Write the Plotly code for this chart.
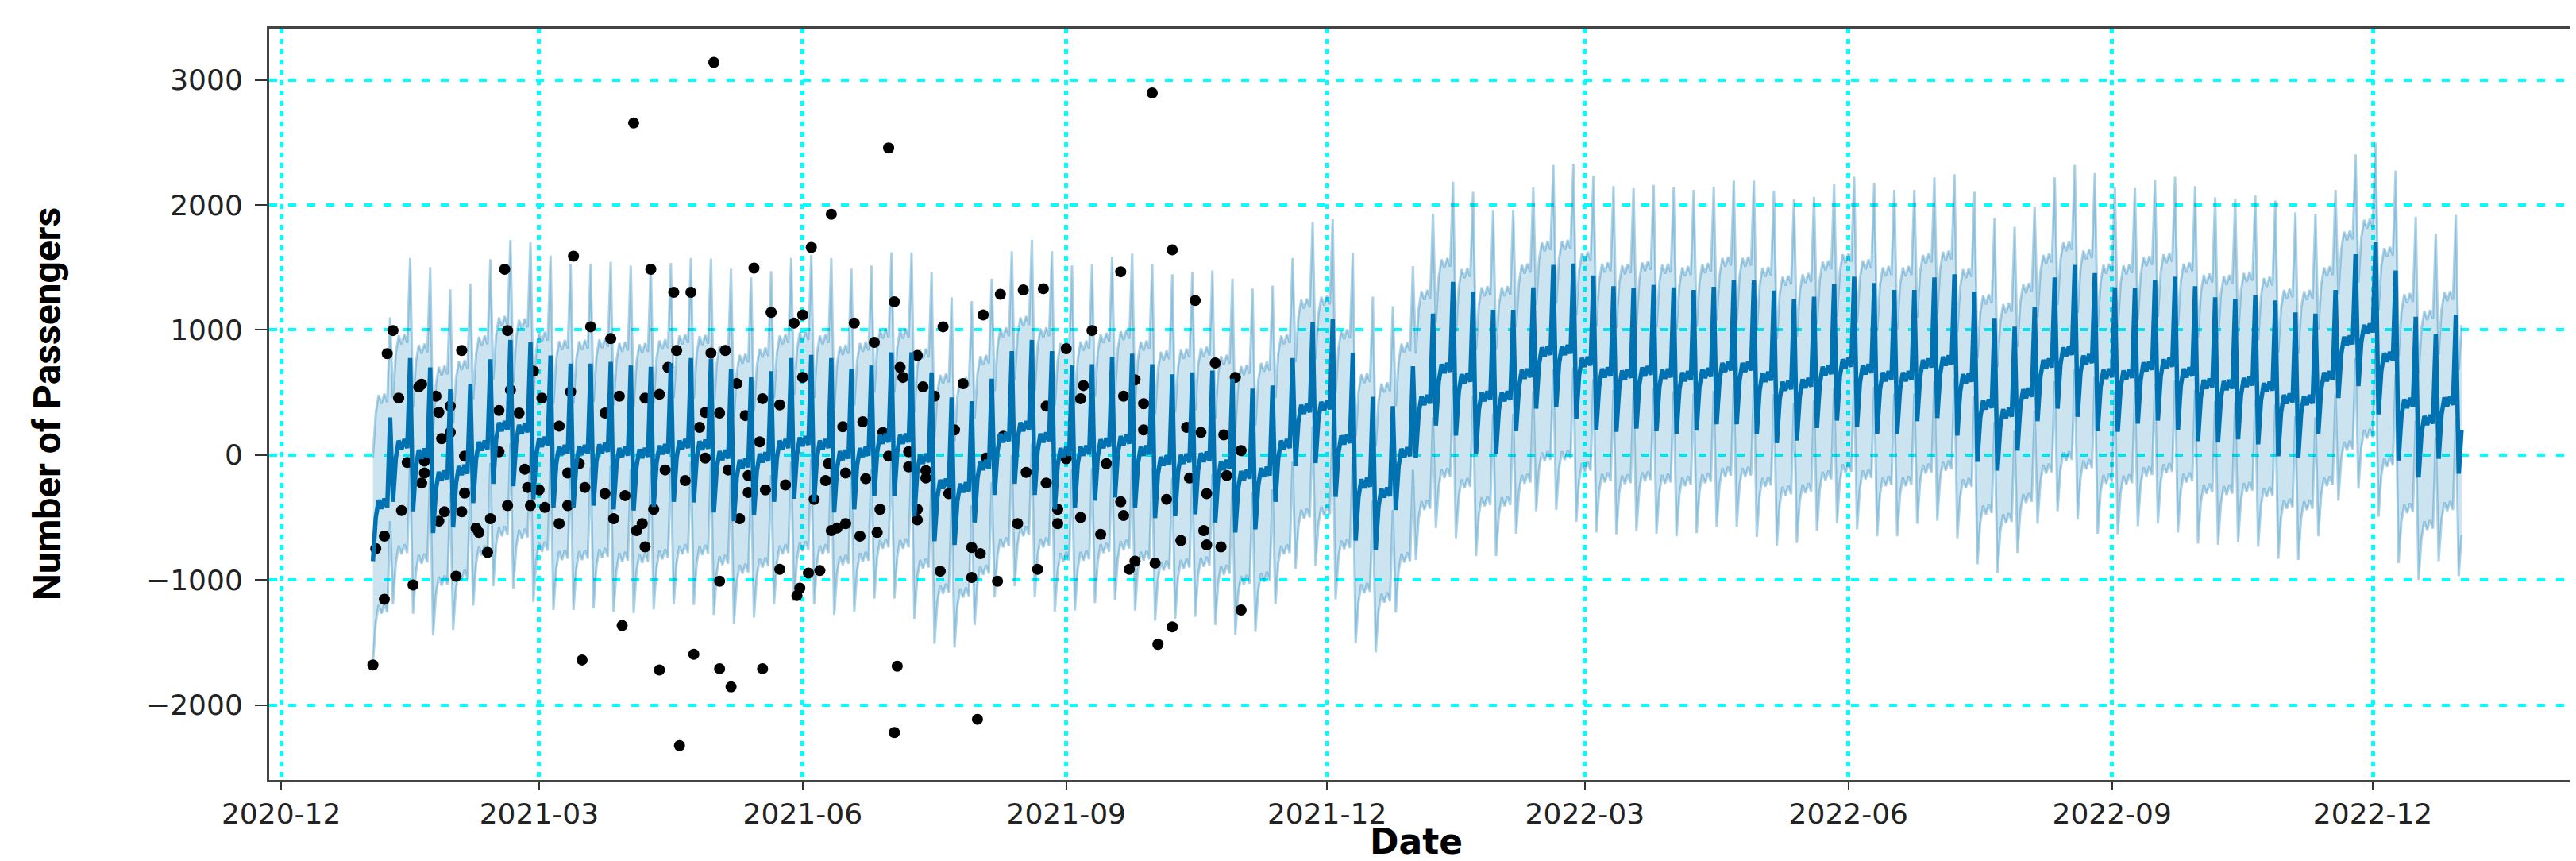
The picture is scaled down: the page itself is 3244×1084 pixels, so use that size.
import numpy as np
import pandas as pd
import plotly.graph_objects as go

# observation days are counted from this date
day0 = pd.Timestamp("2020-12-01")

obs_day = [32, 33, 36, 36, 37, 39, 41, 42, 44, 46, 48, 49, 49, 50, 50, 54, 55, 55, 56, 57,
           59, 59, 61, 63, 63, 64, 64, 68, 69, 72, 73, 76, 76, 78, 79, 79, 80, 83, 85, 86,
           87, 88, 90, 91, 92, 97, 97, 100, 100, 101, 102, 104, 105, 106, 108,
           113, 113, 115, 116, 118, 119, 120, 123, 124, 126, 127, 127, 129, 130, 132, 132, 134, 135, 137, 138,
           139, 141, 143, 144, 146, 148, 148, 150, 151, 153, 153, 153, 155, 156, 157, 159, 160, 162, 163, 163,
           165, 167, 168, 168, 169, 171, 174, 174, 176, 179, 180, 181, 182, 182, 184, 185, 186, 188, 190, 191,
           192, 192,
           194, 196, 197, 197, 200, 202, 203, 204, 207, 208, 209, 210, 212, 212, 214, 215, 214, 216, 217, 219,
           219, 222, 222, 222, 224, 225, 225, 228, 230, 231, 233, 235, 238, 241, 241, 243, 244, 245, 246, 250,
           251, 252, 257, 259, 260, 264, 266, 267, 267, 271, 271, 274, 274,
           279, 279, 280, 283, 286, 288, 293, 293, 294, 294, 296, 298, 298, 301, 301, 304, 305, 306, 309, 311,
           311, 314, 316, 317, 319, 321, 322, 323, 323, 326, 328, 329, 330, 333, 335, 335]
obs_value = [-1680, -750, -650, -1155, 810, 995, 455, -445, -60, -1040, 545, 565, -225, -145, -50, 470, -530, 340, 130, -455,
             390, 180, -970, -455, 835, -10, -305, -585, -620, -780, -510, 355, 25, 1485, -405, 995, 520, 335, -115, -260,
             -405, 670, -280, 455, -420, -550, 230, -145, -405, 505, 1590, -70, -1640, -260, 1025,
             335, -310, 930, -510, 470, -1365, -325, 2655, -605, -550, -735, 455, 1485, -435, -1720, 485, -120, 700, 1300, 835,
             -2325, -205, 1300, -1595, 220, 340, -25, 815, 3140, 335, -1010, -1710, 835, -120, -1855, 570, -510, 315, -165, -300,
             1495, 105, 450, -1710, -280, 1140, 400, -915, -240, 1055, -1125, -1065, 1120, 620, -945, 1660, -355, -925, -205, -70,
             1925, -605,
             -585, 225, -550, -145, 1055, -650, 265, -190, 900, -620, -435, 180, 2455, -10, 1225, -1690, -2220, 700, 620, 25,
             -95, 795, -435, -520, 545, -125, -185, 470, -930, 1025, -310, 200, 570, -740, -980, -2115, -790, 1120, -25, -1010,
             1285, 150, -550, 1320, -140, -915, 1330, -225, 390, -435, -550, 850, -30,
             -500, 450, 555, 995, -635, -70, 1465, -375, -485, 470, -915, -850, 600, 200, 410, 2895, -865, -1515, -355, 1640,
             -1375, -685, 220, -185, 1235, 180, -605, -720, -310, 735, -735, 160, -165, 620, -1240, 35]

# forecast: level of each week (Sat..Fri) plus a weekday effect (Mon..Sun)
forecast_start = "2021-01-02"
forecast_end = "2023-01-01"
weekly_level = [-400, 75, 0, -175, -130, 65, 220, 200, 95, 30,
                30, 45, 15, 5, 35, 75, 70, -10, -80, -30,
                75, 100, 75, -10, 15, 120, 120, -40, -240, -270,
                -90, 130, 220, 130, 15, 25, 85, 110, 25, -55,
                -40, -25, -90, -170, -145, 75, 360, 385, 115, -235,
                -310, 10, 430, 685, 605, 460, 460, 640, 820, 830,
                735, 650, 635, 660, 640, 620, 645, 695, 695, 615,
                545, 565, 665, 725, 675, 620, 620, 720, 745, 605,
                395, 325, 485, 720, 820, 755, 640, 635, 700, 725,
                650, 560, 550, 575, 535, 440, 430, 620, 905, 1000,
                775, 405, 270, 420, 300]
weekday_effect = [40, -30, 50, -20, 700, -450, -100]
band_above = [840, 840, 840, 840, 800, 830, 840]
band_below = [840, 840, 840, 840, 830, 820, 840]

x_tick_dates = ["2020-12-01", "2021-03-01", "2021-06-01", "2021-09-01", "2021-12-01",
                "2022-03-01", "2022-06-01", "2022-09-01", "2022-12-01"]
x_tick_text = ["2020-12", "2021-03", "2021-06", "2021-09", "2021-12",
               "2022-03", "2022-06", "2022-09", "2022-12"]
y_tick_vals = [-2000, -1000, 0, 1000, 2000, 3000]
y_tick_text = ["\u22122000", "\u22121000", "0", "1000", "2000", "3000"]

obs_ds = day0 + pd.to_timedelta(obs_day, unit="D")
ds = pd.date_range(forecast_start, forecast_end, freq="D")
week_no = np.asarray((ds - ds[0]).days // 7)
dow = np.asarray(ds.dayofweek)
yhat = np.asarray(weekly_level)[week_no] + np.asarray(weekday_effect)[dow]
yhat_upper = yhat + np.asarray(band_above)[dow]
yhat_lower = yhat - np.asarray(band_below)[dow]

blue = "#0072B2"
band_edge = "rgba(0,114,178,0.32)"
band_fill = "rgba(0,114,178,0.2)"

fig = go.Figure()
fig.add_trace(go.Scatter(x=ds, y=yhat_lower, mode="lines",
                         line=dict(color=band_edge, width=3), showlegend=False))
fig.add_trace(go.Scatter(x=ds, y=yhat_upper, mode="lines", fill="tonexty",
                         fillcolor=band_fill,
                         line=dict(color=band_edge, width=3), showlegend=False))
fig.add_trace(go.Scatter(x=obs_ds, y=obs_value, mode="markers",
                         marker=dict(color="black", size=14), showlegend=False))
fig.add_trace(go.Scatter(x=ds, y=yhat, mode="lines",
                         line=dict(color=blue, width=5.5), showlegend=False))

tick_font = dict(family="DejaVu Sans", size=36, color="#222222")
fig.update_layout(
    width=3244, height=1084,
    margin=dict(l=331, r=12, t=28, b=110),
    paper_bgcolor="white", plot_bgcolor="white",
    xaxis=dict(
        type="date",
        range=[day0 - pd.Timedelta(days=4.2), day0 + pd.Timedelta(days=799)],
        tickvals=x_tick_dates, ticktext=x_tick_text,
        ticks="outside", ticklen=9, tickwidth=2, tickcolor="#333333",
        tickfont=tick_font,
        showgrid=True, gridcolor="#00ffff", griddash="6px,7px", gridwidth=5,
        showline=True, mirror=True, linecolor="#444444", linewidth=3,
        zeroline=False,
    ),
    yaxis=dict(
        range=[-2600, 3410],
        tickvals=y_tick_vals, ticktext=y_tick_text,
        ticks="outside", ticklen=15, tickwidth=2, tickcolor="#333333",
        tickfont=tick_font, ticklabelstandoff=8,
        showgrid=True, gridcolor="#00ffff", griddash="10px,14px", gridwidth=4,
        showline=True, mirror=True, linecolor="#444444", linewidth=3,
        zeroline=False,
    ),
    annotations=[
        dict(text="<b>Number of Passengers</b>", xref="paper", yref="paper",
             x=0, y=0.5, xshift=-280, xanchor="center", yanchor="middle",
             textangle=-90, showarrow=False,
             font=dict(family="Roboto", size=48, color="black")),
        dict(text="<b>Date</b>", xref="paper", yref="paper",
             x=0.4985, y=0, yshift=-77, xanchor="center", yanchor="middle",
             showarrow=False,
             font=dict(family="DejaVu Sans", size=44, color="black")),
    ],
)

fig.write_html("out.html")
